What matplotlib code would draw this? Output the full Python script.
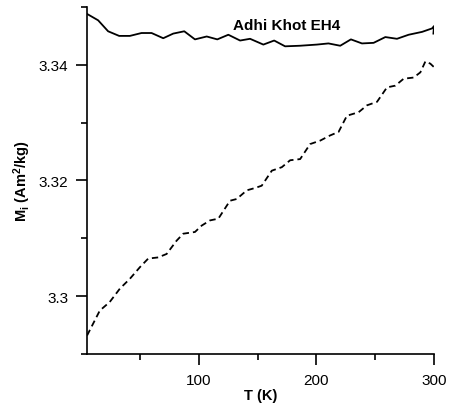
import matplotlib
matplotlib.use("Agg")
from matplotlib import pyplot as plt
from matplotlib.ticker import MultipleLocator

plt.rcParams["font.family"] = ["Liberation Sans", "DejaVu Sans"]
plt.rcParams["mathtext.default"] = "regular"

# Solid curve (upper)
t_solid = [4.8, 14.2, 22.7, 32.1, 41.2, 51.1, 59.7, 69.6, 78.1, 87.5, 96.6, 106.6,
           115.6, 125.0, 135.0, 143.5, 154.8, 164.0, 173.3, 186.0, 200.3, 210.2,
           220.2, 229.3, 238.7, 248.6, 258.6, 268.5, 278.4, 289.9, 298.4, 300.0, 299.5]
m_solid = [3.3488, 3.3477, 3.3458, 3.3450, 3.3450, 3.3455, 3.3455, 3.3446, 3.3454,
           3.3458, 3.3444, 3.3449, 3.3444, 3.3452, 3.3442, 3.3445, 3.3435, 3.3442,
           3.3432, 3.3433, 3.3435, 3.3437, 3.3433, 3.3444, 3.3437, 3.3438, 3.3448,
           3.3445, 3.3452, 3.3457, 3.3463, 3.3467, 3.3454]

# Dashed curve (lower)
t_dash = [4.8, 15.6, 24.1, 32.7, 41.2, 49.7, 56.8, 65.3, 72.5, 81.0, 86.6, 96.6,
          102.3, 109.4, 116.5, 126.4, 132.1, 140.7, 147.7, 153.4, 162.0, 170.5,
          177.6, 186.1, 194.6, 203.2, 211.7, 218.8, 225.9, 235.8, 243.0, 251.5,
          260.0, 267.1, 274.2, 282.7, 288.4, 292.7, 296.9, 300.0]
m_dash = [3.2932, 3.2975, 3.2990, 3.3013, 3.3030, 3.3050, 3.3065, 3.3067, 3.3073,
          3.3096, 3.3108, 3.3111, 3.3122, 3.3131, 3.3134, 3.3165, 3.3168, 3.3183,
          3.3187, 3.3191, 3.3217, 3.3223, 3.3235, 3.3237, 3.3263, 3.3269, 3.3278,
          3.3284, 3.3312, 3.3318, 3.3330, 3.3336, 3.3361, 3.3364, 3.3376, 3.3378,
          3.3387, 3.3406, 3.3402, 3.3396]

fig = plt.figure(figsize=(4.51, 4.14), dpi=100)
ax = fig.add_axes([0.1936, 0.1425, 0.7687, 0.8382])

ax.plot(t_solid, m_solid, color="black", lw=1.3)
ax.plot(t_dash, m_dash, color="black", lw=1.3, dashes=(3.5, 2.2))

ax.set_xlim(5, 300)
ax.set_ylim(3.29, 3.35)
ax.xaxis.set_major_locator(MultipleLocator(100))
ax.xaxis.set_minor_locator(MultipleLocator(50))
ax.yaxis.set_minor_locator(MultipleLocator(0.01))
ax.set_yticks([3.30, 3.32, 3.34])
ax.set_yticklabels(["3.3", "3.32", "3.34"])

for side in ["top", "right"]:
    ax.spines[side].set_visible(False)
for side in ["left", "bottom"]:
    ax.spines[side].set_linewidth(1.2)
ax.tick_params(which="both", direction="out", labelsize=11, width=1.2, pad=5.5)
ax.tick_params(which="major", length=8)
ax.tick_params(which="minor", length=4.5)

ax.set_xlabel("T (K)", fontsize=10.5, fontweight="bold", labelpad=1)
ax.set_ylabel("M$_i$ (Am$^2$/kg)", fontsize=10.5, fontweight="bold", labelpad=4)

ax.text(175, 3.3469, "Adhi Khot EH4", fontsize=11, fontweight="bold", ha="center", va="center")

fig.savefig("out.png", dpi=100)
